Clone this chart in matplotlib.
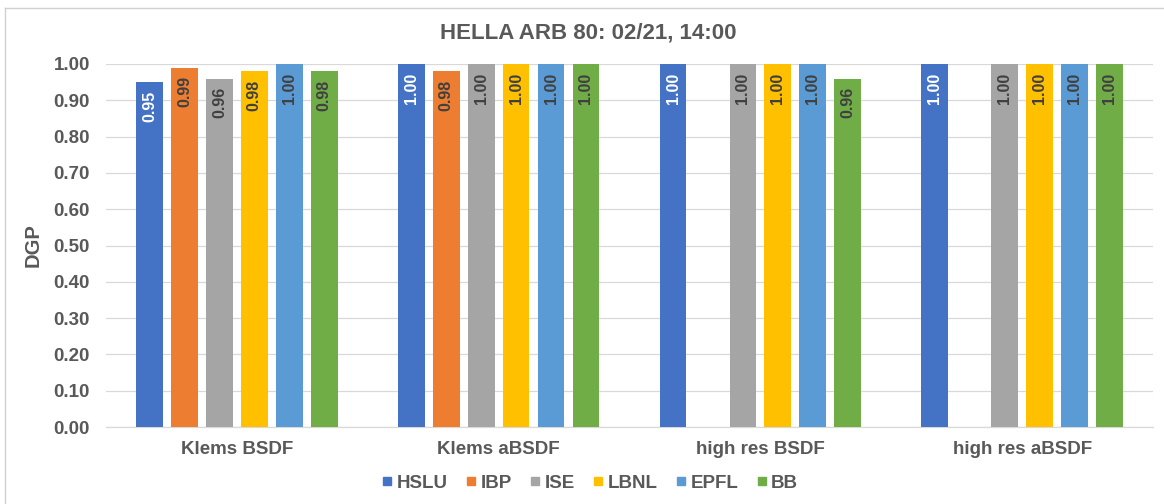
import numpy as np
import matplotlib
matplotlib.use("Agg")
import matplotlib.pyplot as plt
from matplotlib.lines import Line2D

# Data
categories = ["Klems BSDF", "Klems aBSDF", "high res BSDF", "high res aBSDF"]
series_names = ["HSLU", "IBP", "ISE", "LBNL", "EPFL", "BB"]
hslu = [0.95, 1.00, 1.00, 1.00]
ibp = [0.99, 0.98, np.nan, np.nan]
ise = [0.96, 1.00, 1.00, 1.00]
lbnl = [0.98, 1.00, 1.00, 1.00]
epfl = [1.00, 1.00, 1.00, 1.00]
bb = [0.98, 1.00, 0.96, 1.00]
y_ticks = [0.0, 0.1, 0.2, 0.3, 0.4, 0.5, 0.6, 0.7, 0.8, 0.9, 1.0]

series_values = [hslu, ibp, ise, lbnl, epfl, bb]
colors = ["#4472C4", "#ED7D31", "#A5A5A5", "#FFC000", "#5B9BD5", "#70AD47"]
label_colors = ["white", "#404040", "#404040", "#404040", "#404040", "#404040"]

plt.rcParams["font.family"] = ["Liberation Sans", "DejaVu Sans"]
text_gray = "#595959"

W, H = 1164, 504
fig = plt.figure(figsize=(W / 100, H / 100), dpi=100)
ax = fig.add_axes([106 / W, 1 - 427 / H, (1153 - 106) / W, (427 - 64) / H])

x = np.arange(len(categories))
step = 0.1334
width = 0.102
n = len(series_names)
for i, (name, vals, col, lcol) in enumerate(zip(series_names, series_values, colors, label_colors)):
    vals = np.asarray(vals, dtype=float)
    ok = ~np.isnan(vals)
    xpos = x[ok] + (i - (n - 1) / 2) * step
    bars = ax.bar(xpos, vals[ok], width=width, color=col, zorder=3, label=name)
    for b, v in zip(bars, vals[ok]):
        ax.annotate(f"{v:.2f}", xy=(b.get_x() + b.get_width() / 2, b.get_height()),
                    xytext=(0, -6), textcoords="offset points",
                    rotation=90, ha="center", va="top", fontsize=11.5,
                    fontweight="bold", color=lcol, zorder=4)

ax.set_xlim(-0.5, len(categories) - 0.5)
ax.set_ylim(0, 1.0)
ax.set_yticks(y_ticks)
ax.set_yticklabels([f"{t:.2f}" for t in y_ticks])
ax.set_xticks(x)
ax.set_xticklabels(categories)
ax.grid(axis="y", color="#D9D9D9", linewidth=0.9, zorder=0)
ax.set_axisbelow(True)
for s in ["top", "right", "left"]:
    ax.spines[s].set_visible(False)
ax.spines["bottom"].set_color("#D9D9D9")
ax.spines["bottom"].set_linewidth(0.9)
ax.tick_params(axis="both", length=0, labelsize=13.5, labelcolor=text_gray)
ax.tick_params(axis="y", pad=11.5)
ax.tick_params(axis="x", pad=10)
for lab in ax.get_xticklabels() + ax.get_yticklabels():
    lab.set_fontweight("bold")

ax.set_ylabel("DGP", fontsize=14.5, fontweight="bold", color=text_gray, labelpad=8)

fig.text(588 / W, 1 - 33 / H, "HELLA ARB 80: 02/21, 14:00", ha="center", va="center",
         fontsize=16, fontweight="bold", color=text_gray)

handles = [Line2D([0], [0], marker="s", linestyle="none", markersize=6,
                  markerfacecolor=c, markeredgecolor=c) for c in colors]
leg = fig.legend(handles, series_names, loc="center", bbox_to_anchor=(590 / W, 1 - 483 / H),
                 ncol=6, frameon=False, handlelength=0.6, handletextpad=0.2,
                 columnspacing=0.95, prop={"size": 13.5, "weight": "bold"})
for t in leg.get_texts():
    t.set_color(text_gray)

# light frame around the chart area
fig.add_artist(Line2D([5 / W, 5 / W], [0, 1 - 8 / H], transform=fig.transFigure,
                      color="#D0D0D0", linewidth=1))
fig.add_artist(Line2D([5 / W, 1], [1 - 8 / H, 1 - 8 / H], transform=fig.transFigure,
                      color="#D0D0D0", linewidth=1))

fig.savefig("out.png", dpi=100, facecolor="white")
